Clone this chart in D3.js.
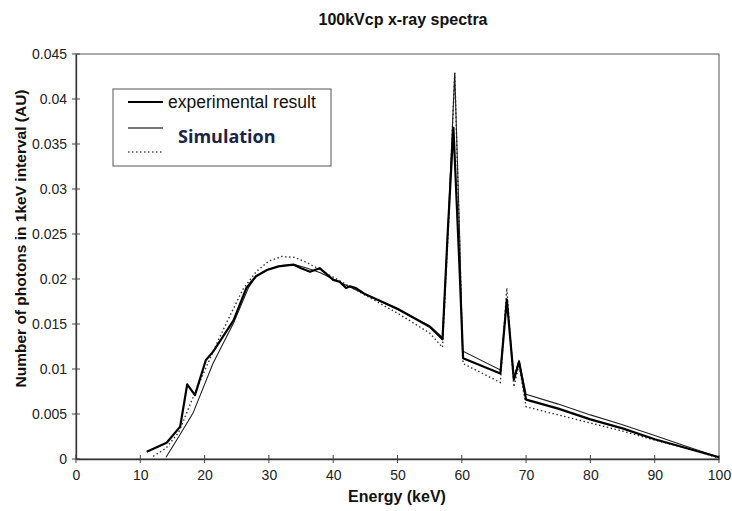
<!DOCTYPE html>
<html><head><meta charset="utf-8">
<script src="https://cdn.jsdelivr.net/npm/d3@7/dist/d3.min.js"></script>
<style>body{margin:0;background:#fff}svg{display:block}text{font-family:"Liberation Sans",Arial,sans-serif}</style>
</head><body>
<svg id="c" width="732" height="511"></svg>
<script>
const title = "100kVcp x-ray spectra";
const xLabel = "Energy (keV)";
const yLabel = "Number of photons in 1keV interval (AU)";
const xTicks = [0,10,20,30,40,50,60,70,80,90,100];
const yTicks = [0,0.005,0.01,0.015,0.02,0.025,0.03,0.035,0.04,0.045];
const yTickLabels = ["0","0.005","0.01","0.015","0.02","0.025","0.03","0.035","0.04","0.045"];

const expE = [11,14.1,16.2,17.3,18.5,20.2,21.3,24.5,26.5,28,29.7,31.5,33.8,35,36.4,37.9,40,41,42,42.6,43.5,45,50,55,57,57.8,58.7,59.6,60.2,66,67,68.1,68.9,70,75,80,85,90,95,100];
const expV = [0.0008,0.0018,0.0036,0.0083,0.0071,0.011,0.0119,0.0154,0.019,0.0203,0.021,0.0214,0.0216,0.0212,0.0208,0.0212,0.0199,0.0197,0.0190,0.0192,0.0190,0.0183,0.0167,0.0147,0.0133,0.025,0.0368,0.022,0.0112,0.0095,0.0177,0.0088,0.0108,0.0066,0.0056,0.0044,0.0034,0.0022,0.0012,0.0002];

const simE = [14,16,18.2,21.3,24.5,26.8,28,30,32,34,36,38,40,42,45,50,55,57,58,58.9,59.7,60.1,66,67,68.1,68.9,70,75,80,85,90,95,100];
const simV = [0.0002,0.0025,0.0051,0.0106,0.0151,0.019,0.0203,0.0211,0.0215,0.0216,0.0212,0.0207,0.0200,0.0193,0.0183,0.0166,0.0148,0.0135,0.028,0.0429,0.024,0.0120,0.0099,0.0178,0.0090,0.0110,0.0072,0.0061,0.0049,0.0038,0.0026,0.0014,0.0002];

const dotE = [12,14,16,18,20,22,24,26,28,30,32,34,36,38,40,45,50,55,57,58,58.9,59.7,60.2,66,67,68.1,68.9,70,75,80,85,90,95,100];
const dotV = [0.0003,0.0012,0.003,0.0065,0.0098,0.013,0.016,0.0189,0.0208,0.022,0.0225,0.0224,0.0218,0.021,0.0202,0.0182,0.0162,0.014,0.0124,0.027,0.043,0.023,0.0106,0.0085,0.019,0.008,0.0105,0.0058,0.0049,0.004,0.0031,0.0021,0.0012,0.0001];

const legendLabels = ["experimental result","Simulation",""];

const svg = d3.select("#c");
const m = {l:76, r:719, t:54, b:459};
const x = d3.scaleLinear().domain([0,100]).range([m.l,m.r]);
const y = d3.scaleLinear().domain([0,0.045]).range([m.b,m.t]);

svg.append("text").attr("x",403).attr("y",25).attr("text-anchor","middle")
  .attr("font-weight","bold").attr("font-size",16).attr("fill","#111").text(title);

// frame
svg.append("rect").attr("x",m.l).attr("y",m.t).attr("width",m.r-m.l).attr("height",m.b-m.t)
  .attr("fill","none").attr("stroke","#555").attr("stroke-width",1);

// x axis
const xa = svg.append("g").attr("transform",`translate(0,${m.b})`)
  .call(d3.axisBottom(x).tickValues(xTicks).tickSize(0).tickPadding(11).tickFormat(d3.format("d")));
xa.select(".domain").attr("stroke","#333").attr("stroke-width",1.3);
xa.selectAll("text").attr("font-size",14).attr("fill","#222").style("font-family","Liberation Sans, Arial");
svg.append("g").selectAll("line").data(xTicks).join("line")
  .attr("x1",d=>x(d)).attr("x2",d=>x(d)).attr("y1",m.b-4).attr("y2",m.b+4).attr("stroke","#444");

// y axis
const ya = svg.append("g").attr("transform",`translate(${m.l},0)`)
  .call(d3.axisLeft(y).tickValues(yTicks).tickSize(0).tickPadding(9).tickFormat((d,i)=>yTickLabels[i]));
ya.select(".domain").attr("stroke","#333").attr("stroke-width",1.3);
ya.selectAll("text").attr("font-size",14).attr("fill","#222").style("font-family","Liberation Sans, Arial");
svg.append("g").selectAll("line").data(yTicks).join("line")
  .attr("y1",d=>y(d)).attr("y2",d=>y(d)).attr("x1",m.l-4).attr("x2",m.l+4).attr("stroke","#444");

svg.append("text").attr("x",397).attr("y",502).attr("text-anchor","middle")
  .attr("font-weight","bold").attr("font-size",16).attr("fill","#111").text(xLabel);
svg.append("text").attr("transform",`translate(26,${(m.t+m.b)/2-18}) rotate(-90)`).attr("text-anchor","middle")
  .attr("font-weight","bold").attr("font-size",15.5).attr("fill","#111").text(yLabel);

const line = d3.line().x(d=>x(d[0])).y(d=>y(d[1]));
const plot = svg.append("g");
plot.append("path").datum(dotE.map((e,i)=>[e,dotV[i]])).attr("d",line)
  .attr("fill","none").attr("stroke","#333").attr("stroke-width",1.4).attr("stroke-dasharray","1.5,2.5");
plot.append("path").datum(simE.map((e,i)=>[e,simV[i]])).attr("d",line)
  .attr("fill","none").attr("stroke","#222").attr("stroke-width",1.1);
plot.append("path").datum(expE.map((e,i)=>[e,expV[i]])).attr("d",line)
  .attr("fill","none").attr("stroke","#000").attr("stroke-width",2.2).attr("stroke-linejoin","round");

// legend
const lg = svg.append("g");
lg.append("rect").attr("x",113).attr("y",89).attr("width",218).attr("height",77)
  .attr("fill","#fff").attr("stroke","#555").attr("stroke-width",1);
lg.append("line").attr("x1",128).attr("x2",163).attr("y1",102).attr("y2",102).attr("stroke","#000").attr("stroke-width",2.2);
lg.append("line").attr("x1",128).attr("x2",163).attr("y1",128).attr("y2",128).attr("stroke","#777").attr("stroke-width",2);
lg.append("line").attr("x1",128).attr("x2",163).attr("y1",152).attr("y2",152).attr("stroke","#555").attr("stroke-width",1.3).attr("stroke-dasharray","1.5,2.5");
lg.append("text").attr("x",168).attr("y",108).attr("font-size",17.5).attr("fill","#111").text(legendLabels[0]);
lg.append("text").attr("x",178).attr("y",143).attr("font-size",18).attr("font-weight","bold")
  .attr("fill","#1b2447").style("font-family","Open Sans, Lato, sans-serif").text(legendLabels[1]);
</script>
</body></html>
